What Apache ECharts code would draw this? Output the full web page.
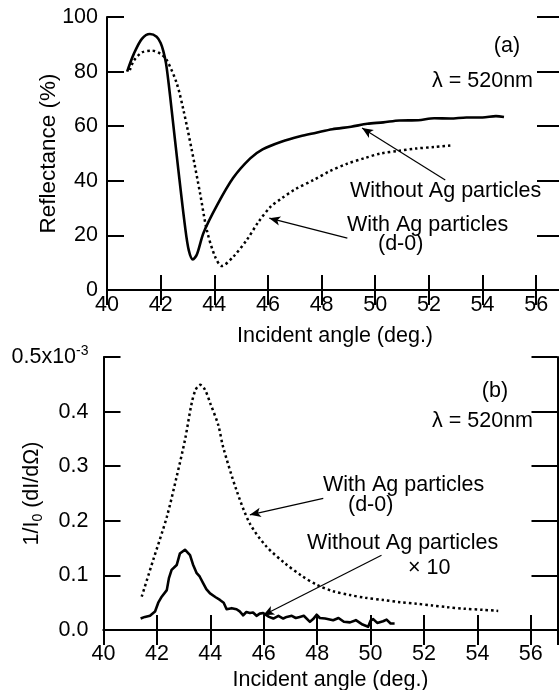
<!DOCTYPE html>
<html><head><meta charset="utf-8">
<script src="https://cdn.jsdelivr.net/npm/echarts@6/dist/echarts.min.js"></script>
<style>html,body{margin:0;padding:0;background:#fff}#c{width:559px;height:690px}</style>
</head><body><div id="c"></div>
<script>
// ---- Panel (a): reflectance (%) vs incident angle (deg.) ----
const reflAngleNoAg = [40.75,41.0,41.3,41.6,41.85,42.0,42.1,42.2,42.3,42.41,42.66,42.91,43.05,43.2,43.35,43.6,44.1,44.7,45.34,45.8,46.5,47.2,47.8,48.4,49.1,49.7,50.3,50.9,51.6,52.2,52.8,53.4,54.0,54.5,54.8];
const reflNoAg      = [80,86.5,92,93.8,92.8,90.5,87.5,83,75.5,66,44,23.2,14.5,11.2,13,21,31,41,48.2,51.5,54.3,56.3,57.6,58.9,59.8,60.9,61.4,62.1,62.2,62.9,62.8,63.2,63.2,63.7,63.4];
const reflAngleAg   = [40.85,41.0,41.3,41.67,42.0,42.23,42.6,42.85,43.16,43.47,43.72,44.03,44.28,44.71,45.21,45.65,46.1,46.5,47.0,47.7,48.3,48.94,49.6,50.2,50.9,51.5,52.2,52.8];
const reflAg        = [80.5,84,87,87.7,86.5,84.2,75.7,65.9,51.3,35.4,22,12.2,8.8,12.2,18.3,25,30.5,33.5,36.8,40.3,43.5,46.2,48.3,50,51,51.8,52.4,52.9];

// ---- Panel (b): 1/I0 (dI/dΩ) [x10^-3] vs incident angle (deg.) ----
const scatAngleAg = [41.43,41.86,42.37,42.74,43.05,43.3,43.45,43.62,43.8,44.0,44.3,44.48,44.98,45.48,46.1,46.8,47.4,47.98,48.6,49.23,49.8,50.47,51.1,51.72,52.3,52.84,53.5,54.2,54.78];
const scatAg      = [0.061,0.128,0.207,0.281,0.348,0.415,0.44,0.449,0.44,0.415,0.375,0.335,0.256,0.195,0.153,0.122,0.1,0.083,0.071,0.064,0.059,0.055,0.051,0.048,0.045,0.042,0.039,0.037,0.035];
const scatAngleNoAg = [41.39,41.55,41.74,41.93,42.05,42.18,42.37,42.45,42.55,42.74,42.86,43.05,43.24,43.35,43.49,43.6,43.73,43.85,43.99,44.2,44.36,44.5,44.61,44.8,44.98,45.1,45.23,45.35,45.48,45.6,45.73,45.85,45.98,46.2,46.36,46.55,46.73,46.86,47.05,47.2,47.35,47.5,47.73,47.85,47.98,48.1,48.3,48.6,48.8,49.0,49.23,49.45,49.7,49.91,50.0,50.1,50.25,50.47,50.6,50.75,50.9];
const scatNoAg      = [0.021,0.024,0.026,0.034,0.05,0.061,0.073,0.095,0.11,0.119,0.14,0.147,0.137,0.12,0.104,0.098,0.086,0.075,0.067,0.06,0.055,0.05,0.038,0.04,0.038,0.034,0.027,0.033,0.031,0.032,0.026,0.03,0.031,0.024,0.021,0.026,0.021,0.024,0.026,0.022,0.024,0.026,0.015,0.02,0.028,0.022,0.021,0.018,0.022,0.015,0.014,0.018,0.01,0.006,0.017,0.02,0.013,0.016,0.019,0.012,0.012];

const xTicksMin = 40, xTicksMax = 57, xStep = 2;
const reflTicks = {min: 0, max: 100, step: 20};
const scatTicks = {min: 0, max: 0.5, step: 0.1};

// arrows [from, to] in data coordinates
const arrowsA = [[[52.61,40.3],[49.51,59.3]], [[48.96,19.0],[46.05,26.3]]];
const arrowsB = [[[48.23,0.241],[45.48,0.211]], [[50.41,0.137],[45.98,0.027]]];

const zip = (xs, ys) => xs.map((x, i) => [x, ys[i]]);
const FONT = 'Liberation Sans, Arial, Helvetica, sans-serif';
const FS = 21.5;
const BLACK = '#000';

function xAxisPair(gridIndex, labelMargin, nameGap) {
  return [
    { type:'value', gridIndex, min:xTicksMin, max:xTicksMax, interval:xStep, position:'bottom',
      axisLine:{lineStyle:{color:BLACK,width:2}},
      axisTick:{inside:true,length:15,lineStyle:{color:BLACK,width:2}},
      axisLabel:{color:BLACK,fontFamily:FONT,fontSize:FS,margin:labelMargin,showMaxLabel:false,
        formatter:v => (v % 2 === 0 ? String(v) : '')},
      splitLine:{show:false},
      name:'Incident angle (deg.)', nameLocation:'middle', nameGap,
      nameTextStyle:{color:BLACK,fontFamily:FONT,fontSize:FS} },
    { type:'value', gridIndex, min:xTicksMin, max:xTicksMax, interval:xStep, position:'top',
      axisLine:{lineStyle:{color:BLACK,width:2}},
      axisTick:{inside:true,length:15,lineStyle:{color:BLACK,width:2}},
      axisLabel:{show:false}, splitLine:{show:false} }
  ];
}

const option = {
  backgroundColor:'#fff',
  animation:false,
  textStyle:{fontFamily:FONT},
  grid:[
    {left:107, top:17, width:456, height:273, outerBoundsMode:'none', containLabel:false},
    {left:103.5, top:357, width:454, height:273, outerBoundsMode:'none', containLabel:false}
  ],
  xAxis:[...xAxisPair(0, 4, 35), ...xAxisPair(1, 13, 39)],
  yAxis:[
    { type:'value', gridIndex:0, min:reflTicks.min, max:reflTicks.max, interval:reflTicks.step,
      axisLine:{lineStyle:{color:BLACK,width:2}},
      axisTick:{inside:true,length:17,lineStyle:{color:BLACK,width:2}},
      axisLabel:{color:BLACK,fontFamily:FONT,fontSize:FS,margin:9},
      splitLine:{show:false},
      name:'Reflectance (%)', nameLocation:'middle', nameGap:47, nameMoveOverlap:false,
      nameTextStyle:{color:BLACK,fontFamily:FONT,fontSize:22.5} },
    { type:'value', gridIndex:0, position:'right', min:reflTicks.min, max:reflTicks.max, interval:reflTicks.step,
      axisLine:{lineStyle:{color:BLACK,width:2}},
      axisTick:{inside:true,length:26,lineStyle:{color:BLACK,width:2}},
      axisLabel:{show:false}, splitLine:{show:false} },
    { type:'value', gridIndex:1, min:scatTicks.min, max:scatTicks.max, interval:scatTicks.step,
      axisLine:{lineStyle:{color:BLACK,width:2}},
      axisTick:{inside:true,length:17,lineStyle:{color:BLACK,width:2}},
      axisLabel:{color:BLACK,fontFamily:FONT,fontSize:FS,margin:15,
        formatter:v => (Math.abs(v-0.5) < 1e-9 ? '0.5x10{sup|-3}' : v.toFixed(1)),
        rich:{sup:{fontSize:14,fontFamily:FONT,color:BLACK,verticalAlign:'top',padding:[0,0,12,0]}}},
      splitLine:{show:false},
      name:'1/I{sub|0} (dI/dΩ)', nameLocation:'middle', nameGap:58, nameMoveOverlap:false,
      nameTextStyle:{color:BLACK,fontFamily:FONT,fontSize:FS,
        rich:{sub:{fontSize:14,fontFamily:FONT,color:BLACK,padding:[12,0,0,0]}}} },
    { type:'value', gridIndex:1, position:'right', min:scatTicks.min, max:scatTicks.max, interval:scatTicks.step,
      axisLine:{lineStyle:{color:BLACK,width:2}},
      axisTick:{inside:true,length:26,lineStyle:{color:BLACK,width:2}},
      axisLabel:{show:false}, splitLine:{show:false} }
  ],
  series:[]
};

function arrowMarkLine(list) {
  return {
    silent:true, symbol:['none','arrow'], symbolSize:[7,11],
    lineStyle:{color:BLACK,width:1.2,type:'solid'},
    label:{show:false},
    data:list.map(([a,b]) => [{coord:a},{coord:b}])
  };
}

option.series.push(
  { name:'Without Ag particles (a)', type:'line', xAxisIndex:0, yAxisIndex:0, data:zip(reflAngleNoAg, reflNoAg),
    showSymbol:false, smooth:0.3, lineStyle:{color:BLACK,width:2.6}, markLine:arrowMarkLine(arrowsA) },
  { name:'With Ag particles (a)', type:'line', xAxisIndex:0, yAxisIndex:0, data:zip(reflAngleAg, reflAg),
    showSymbol:false, smooth:0.3, lineStyle:{color:BLACK,width:2.5,type:[2.5,3]} },
  { name:'With Ag particles (b)', type:'line', xAxisIndex:2, yAxisIndex:2, data:zip(scatAngleAg, scatAg),
    showSymbol:false, smooth:0.3, lineStyle:{color:BLACK,width:2.5,type:[2.5,3]}, markLine:arrowMarkLine(arrowsB) },
  { name:'Without Ag particles x10 (b)', type:'line', xAxisIndex:2, yAxisIndex:2, data:zip(scatAngleNoAg, scatNoAg),
    showSymbol:false, smooth:false, lineStyle:{color:BLACK,width:2.6,join:'round'} }
);

const txt = (text, x, y, align) => ({ type:'text', x, y, silent:true,
  style:{ text, fill:BLACK, font:FS + 'px ' + FONT, align:align || 'left', verticalAlign:'middle' } });

option.graphic = [
  txt('(a)', 507, 46, 'center'),
  txt('λ = 520nm', 533, 81, 'right'),
  txt('Without Ag particles', 350, 191),
  txt('With Ag particles', 347, 225),
  txt('(d-0)', 378, 244),
  txt('(b)', 495, 391, 'center'),
  txt('λ = 520nm', 533, 421, 'right'),
  txt('With Ag particles', 323, 485),
  txt('(d-0)', 348, 505),
  txt('Without Ag particles', 307, 543),
  txt('× 10', 408, 568)
];

const chart = echarts.init(document.getElementById('c'), null, {renderer:'canvas'});
chart.setOption(option);
</script>
</body></html>
